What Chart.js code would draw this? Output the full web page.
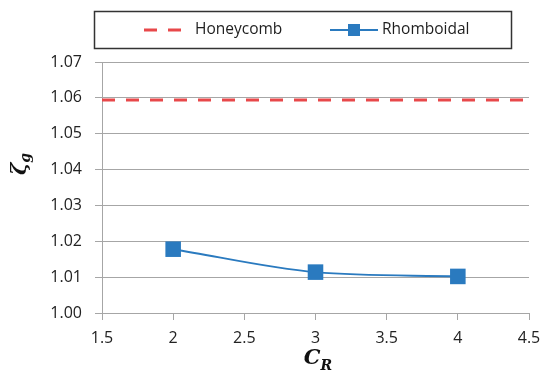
<!DOCTYPE html>
<html>
<head>
<meta charset="utf-8">
<script src="https://cdn.jsdelivr.net/npm/chart.js@4"></script>
<style>
  html, body { margin: 0; padding: 0; background: #fff; }
  #wrap { width: 550px; height: 381px; position: relative; }
</style>
</head>
<body>
<div id="wrap"><canvas id="grafico"></canvas></div>
<script>
// dados
const cr = [2, 3, 4];
const rhomboidal = [1.0178, 1.0114, 1.0102];
const honeycombX = [1.5, 4.5];
const honeycombY = [1.0594, 1.0594];
const legendas = ['Honeycomb', 'Rhomboidal'];

const corVermelho = '#e8484a';
const corAzul = '#2a7abf';
const corGrade = '#a6a6a6';
const fonteTicks = "'Open Sans', sans-serif";

// legenda desenhada à mão (caixa com borda)
const legendaPlugin = {
    id: 'legendaCaixa',
    afterDraw(chart) {
        const ctx = chart.ctx;
        ctx.save();
        ctx.strokeStyle = '#333';
        ctx.lineWidth = 1.5;
        ctx.strokeRect(94.5, 11.5, 417, 37);

        const y = 30;
        // Honeycomb: tracejado vermelho
        ctx.strokeStyle = corVermelho;
        ctx.lineWidth = 3;
        ctx.setLineDash([13, 11]);
        ctx.beginPath();
        ctx.moveTo(144, y);
        ctx.lineTo(182, y);
        ctx.stroke();
        ctx.setLineDash([]);

        // Rhomboidal: linha azul com quadrado
        ctx.strokeStyle = corAzul;
        ctx.lineWidth = 2;
        ctx.beginPath();
        ctx.moveTo(330, y);
        ctx.lineTo(378, y);
        ctx.stroke();
        ctx.fillStyle = corAzul;
        ctx.fillRect(348, y - 6, 12, 12);

        ctx.fillStyle = '#1e1e1e';
        ctx.font = "15.5px 'Open Sans', sans-serif";
        ctx.textBaseline = 'middle';
        ctx.fillText(legendas[0], 195, y);
        ctx.fillText(legendas[1], 382, y);
        ctx.restore();
    }
};

// títulos dos eixos com subscrito
const titulosPlugin = {
    id: 'titulosEixos',
    afterDraw(chart) {
        const ctx = chart.ctx;
        ctx.save();
        ctx.fillStyle = '#111';
        ctx.textBaseline = 'alphabetic';
        // eixo x: C_R
        ctx.font = "bold italic 21px 'DejaVu Serif', serif";
        const wC = ctx.measureText('C').width;
        ctx.font = "bold italic 14px 'DejaVu Serif', serif";
        const wR = ctx.measureText('R').width;
        let x0 = 318 - (wC + wR) / 2;
        ctx.font = "bold italic 21px 'DejaVu Serif', serif";
        ctx.fillText('C', x0, 364);
        ctx.font = "bold italic 14px 'DejaVu Serif', serif";
        ctx.fillText('R', x0 + wC, 370);

        // eixo y: ζ_g rotacionado
        ctx.translate(26, 164);
        ctx.rotate(-Math.PI / 2);
        ctx.font = "bold italic 21px 'DejaVu Serif', serif";
        const wZ = ctx.measureText('ζ').width;
        ctx.font = "bold italic 14px 'DejaVu Serif', serif";
        const wG = ctx.measureText('g').width;
        x0 = -(wZ + wG) / 2;
        ctx.font = "bold italic 21px 'DejaVu Serif', serif";
        ctx.fillText('ζ', x0, 0);
        ctx.font = "bold italic 14px 'DejaVu Serif', serif";
        ctx.fillText('g', x0 + wZ, 4);
        ctx.restore();
    }
};

document.addEventListener('DOMContentLoaded', () => {
    const ctx = document.getElementById('grafico').getContext('2d');
    new Chart(ctx, {
        type: 'line',
        data: {
            datasets: [
                {
                    label: legendas[0],
                    data: honeycombX.map((x, i) => ({ x: x, y: honeycombY[i] })),
                    borderColor: corVermelho,
                    borderWidth: 3,
                    borderDash: [13, 11],
                    pointRadius: 0,
                    fill: false
                },
                {
                    label: legendas[1],
                    data: cr.map((x, i) => ({ x: x, y: rhomboidal[i] })),
                    borderColor: corAzul,
                    backgroundColor: corAzul,
                    borderWidth: 2,
                    tension: 0.4,
                    cubicInterpolationMode: 'monotone',
                    pointStyle: 'rect',
                    pointRadius: 11,
                    pointBorderWidth: 0,
                    fill: false
                }
            ]
        },
        options: {
            responsive: true,
            maintainAspectRatio: false,
            animation: false,
            layout: { padding: { left: 0, top: 62, right: 21, bottom: 0 } },
            plugins: { legend: { display: false }, tooltip: { enabled: false } },
            scales: {
                x: {
                    type: 'linear',
                    min: 1.5,
                    max: 4.5,
                    afterFit: (s) => { s.height = 68; },
                    ticks: {
                        stepSize: 0.5,
                        padding: 9,
                        color: '#222',
                        font: { family: fonteTicks, size: 16 },
                        callback: (v) => String(v)
                    },
                    grid: { drawOnChartArea: false, drawTicks: true, tickLength: 7, color: corGrade },
                    border: { color: corGrade, width: 1 }
                },
                y: {
                    min: 1.0,
                    max: 1.07,
                    afterFit: (s) => { s.width = 102; },
                    ticks: {
                        stepSize: 0.01,
                        padding: 13,
                        color: '#222',
                        font: { family: fonteTicks, size: 16 },
                        callback: (v) => v.toFixed(2)
                    },
                    grid: { color: corGrade, tickLength: 7 },
                    border: { color: corGrade, width: 1 }
                }
            }
        },
        plugins: [legendaPlugin, titulosPlugin]
    });
});
</script>
</body>
</html>
